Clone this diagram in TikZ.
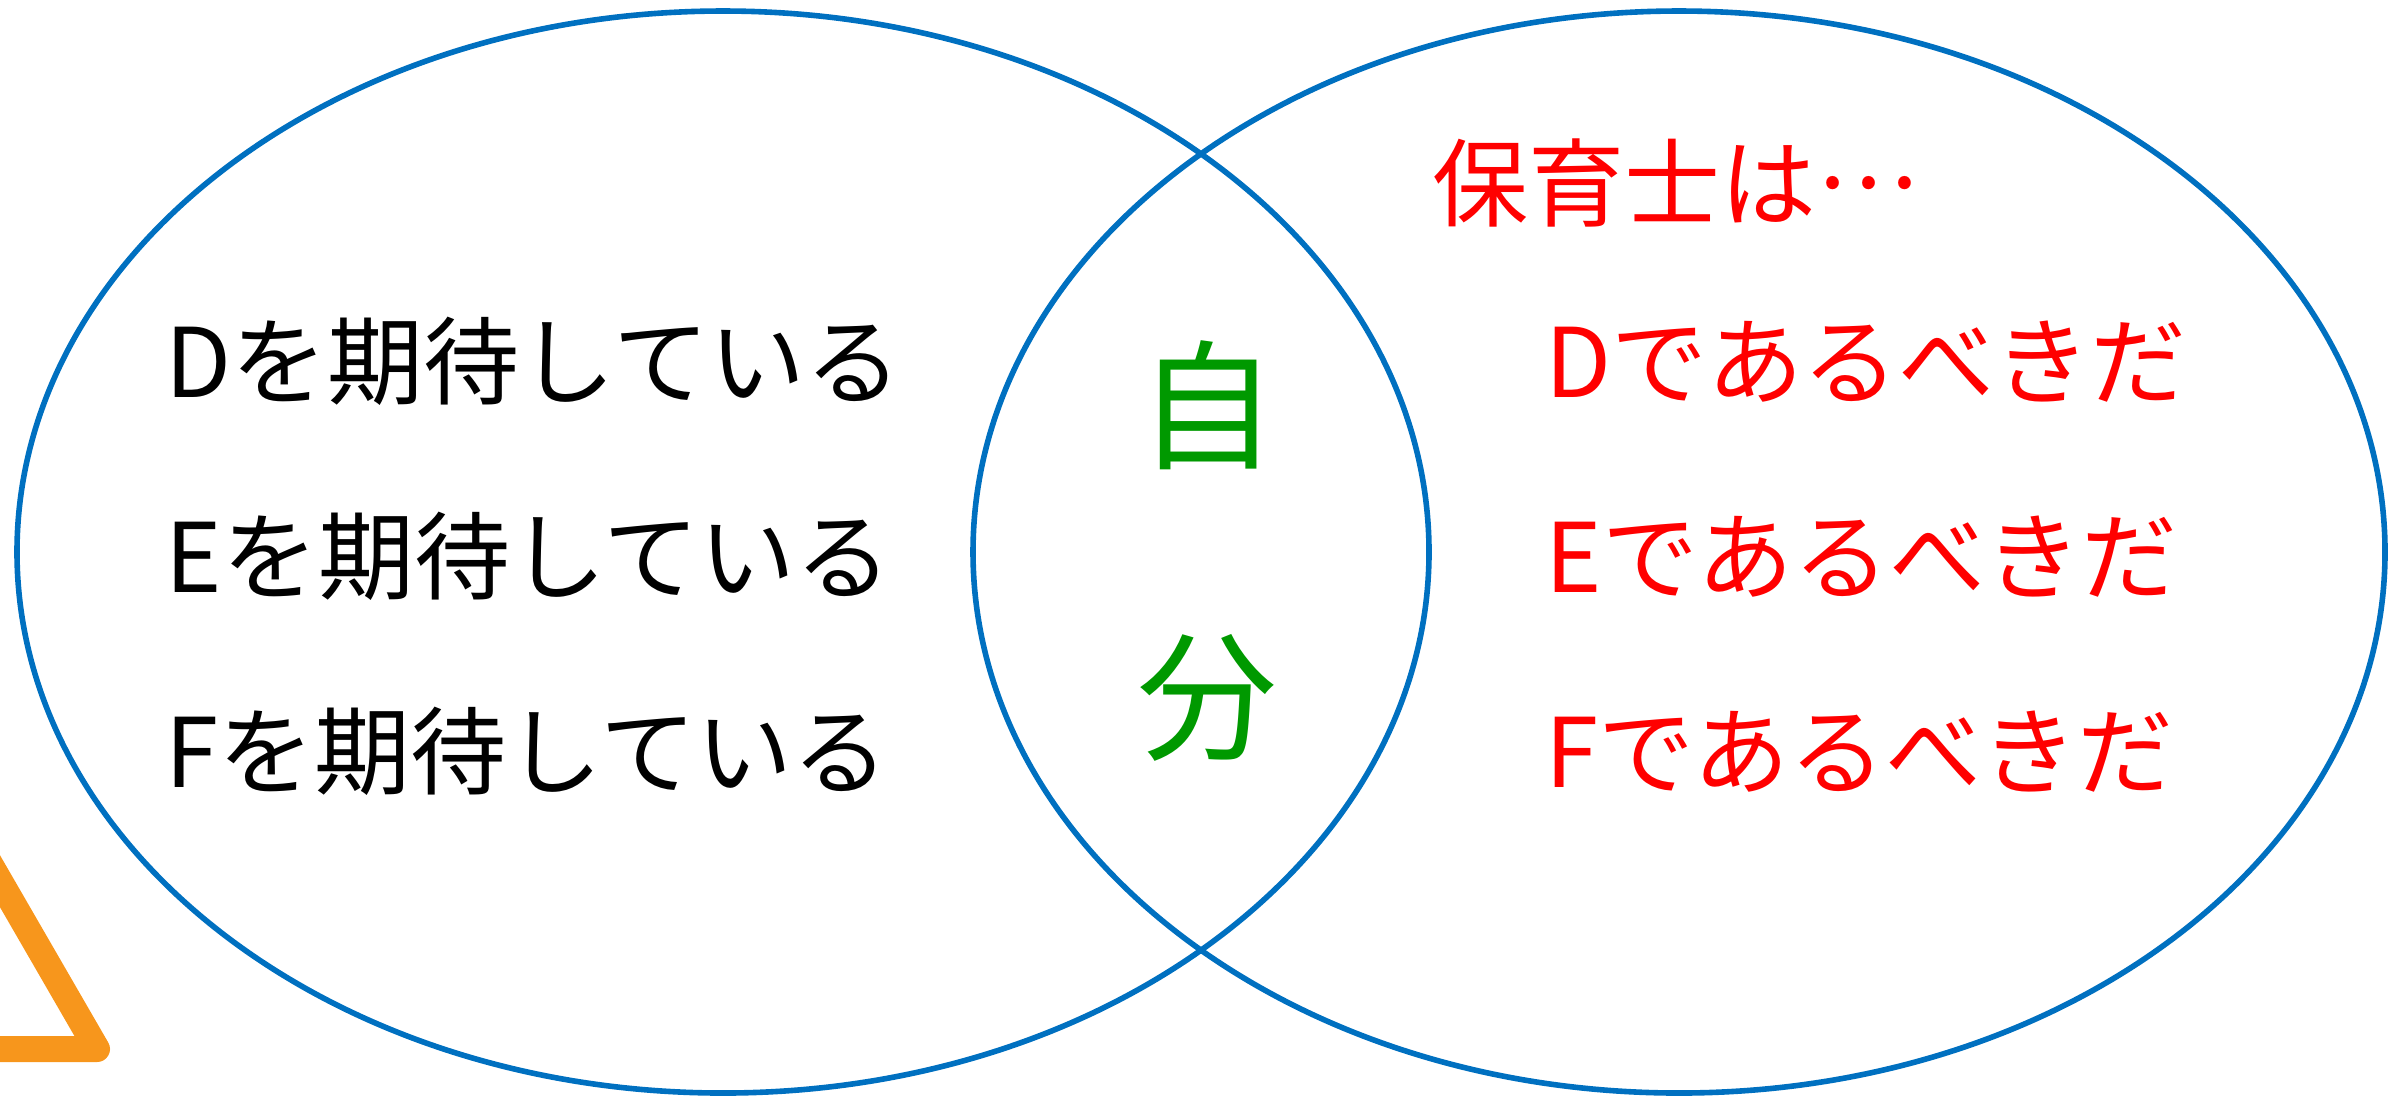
\documentclass[tikz,border=0pt]{standalone}
\usepackage{fontspec}
\setmainfont{Noto Sans CJK JP}
\usetikzlibrary{shapes.geometric}
\definecolor{vblue}{HTML}{0070C0}
\definecolor{vred}{HTML}{FF0000}
\definecolor{vgreen}{HTML}{009900}
\definecolor{vorange}{HTML}{F7961C}
\begin{document}
\begin{tikzpicture}[x=0.25pt,y=-0.25pt,
  setellipse/.style={ellipse,draw=vblue,line width=1.4pt,inner sep=0pt,
    minimum width=353pt,minimum height=270.5pt},
  maintext/.style={inner sep=0pt,anchor=base west,font={\fontsize{24pt}{28pt}\selectfont}},
  lefttext/.style={maintext,text=black},
  righttext/.style={maintext,text=vred},
  selftext/.style={inner sep=0pt,align=center,text=vgreen,font={\fontsize{35pt}{72.75pt}\selectfont}},
  warn/.style={draw=vorange,line width=6.5pt,line join=round,line cap=round}]
\useasboundingbox (0,0) rectangle (2405,1097);
\clip (0,0) rectangle (2405,1097);
% orange triangle (partly outside the picture)
\coordinate (t1) at (97,1049);
\coordinate (t2) at (-303,1049);
\coordinate (t3) at (-103,703);
\draw[warn] (t1) -- (t2) -- (t3) -- cycle;
% the two sets
\node[setellipse] (L) at (723,552) {};
\node[setellipse] (R) at (1679,552) {};
% left texts
\node[lefttext] (l1) at (165,397) {Dを期待している};
\node[lefttext] (l2) at (165,592) {Eを期待している};
\node[lefttext] (l3) at (165,787) {Fを期待している};
% right texts
\node[righttext] (rh) at (1432,219) {保育士は\raisebox{0.32em}{…}};
\node[righttext] (r1) at (1545,397) {Dであるべきだ};
\node[righttext] (r2) at (1545,592) {Eであるべきだ};
\node[righttext] (r3) at (1545,787) {Fであるべきだ};
% centre
\node[selftext] (self) at (1207,551) {自\\分};
\end{tikzpicture}
\end{document}
